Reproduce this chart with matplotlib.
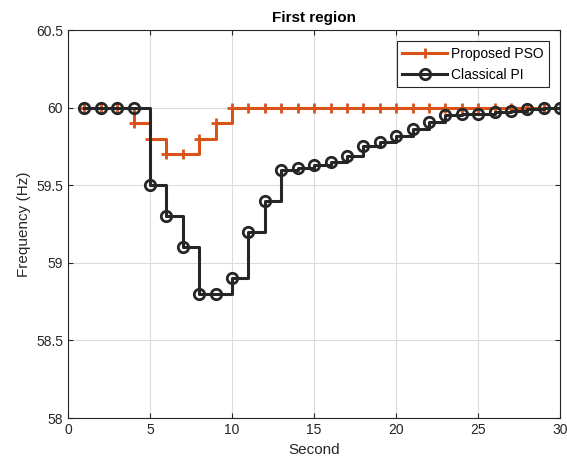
import matplotlib.pyplot as plt

plt.rcParams['font.family'] = ['Liberation Sans', 'DejaVu Sans']

# time steps (s)
t = list(range(1, 31))

# frequency of the first region (Hz)
pso = [60, 60, 60, 59.9, 59.8, 59.7, 59.7, 59.8, 59.9] + [60] * 21
pi = [60, 60, 60, 60, 59.5, 59.3, 59.1, 58.8, 58.8, 58.9,
      59.2, 59.4, 59.6, 59.61, 59.63, 59.65, 59.69, 59.75, 59.78, 59.82,
      59.865, 59.91, 59.95, 59.96, 59.96, 59.97, 59.98, 59.99, 60, 60]

fig = plt.figure(figsize=(5.67, 4.63), dpi=100)
ax = fig.add_axes([0.12, 0.097, 0.868, 0.838])

ax.step(t, pso, where='post', color='#D95319', linewidth=2.2,
        marker='+', markersize=7, markeredgewidth=2, label='Proposed PSO')
ax.step(t, pi, where='post', color='#262626', linewidth=2.2,
        marker='o', markersize=7.5, markerfacecolor='none', markeredgewidth=2,
        label='Classical PI')

ax.set_xlim(0, 30)
ax.set_ylim(58, 60.5)
ax.set_xticks([0, 5, 10, 15, 20, 25, 30])
ax.set_yticks([58, 58.5, 59, 59.5, 60, 60.5])
ax.set_yticklabels(['58', '58.5', '59', '59.5', '60', '60.5'])
ax.grid(True, color='#dcdcdc', linewidth=0.8)
ax.tick_params(direction='in', top=True, right=True, labelsize=10, colors='#262626')
for s in ax.spines.values():
    s.set_color('#262626')
    s.set_linewidth(0.8)

ax.set_xlabel('Second', fontsize=11, color='#262626')
ax.set_ylabel('Frequency (Hz)', fontsize=11, color='#262626')
ax.set_title('First region', fontsize=11, fontweight='bold')

leg = ax.legend(loc='upper right', fontsize=10, fancybox=False, framealpha=1,
                edgecolor='#262626', borderaxespad=0.8, handlelength=3.2,
                handletextpad=0.3)
leg.get_frame().set_linewidth(0.8)

fig.savefig('out.png', dpi=100)
